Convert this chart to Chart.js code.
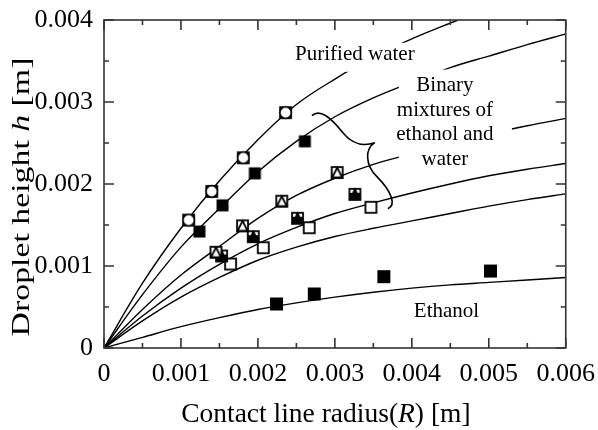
<!DOCTYPE html>
<html>
<head>
<meta charset="utf-8">
<script src="https://cdn.jsdelivr.net/npm/chart.js@4.4.1/dist/chart.umd.min.js"></script>
<style>
  html, body { margin: 0; padding: 0; background: #fff; }
  #wrap { width: 598px; height: 430px; }
</style>
</head>
<body>
<div id="wrap"><canvas id="chart" width="598" height="430"></canvas></div>
<script>
// contact line radius R [m] vs droplet height h [m]

// fitted curves
const curveR = [0, 0.0005, 0.001, 0.0015, 0.002, 0.0025, 0.003, 0.0035, 0.004, 0.0045, 0.005, 0.0055, 0.006];
const waterCurveR = [0, 0.0005, 0.001, 0.0015, 0.002, 0.0025, 0.003, 0.0035, 0.004, 0.0046];
const waterCurveH = [0, 0.00079, 0.00146, 0.00204, 0.00254, 0.00297, 0.00328, 0.00355, 0.00377, 0.0040];
const mixA_curveH = [0, 0.00065, 0.00123, 0.0017, 0.00215, 0.00252, 0.00282, 0.00305, 0.00324, 0.00342, 0.00356, 0.0037, 0.00383];
const mixB_curveH = [0, 0.00047, 0.00089, 0.00124, 0.00158, 0.00186, 0.00207, 0.00224, 0.00237, 0.0025, 0.00261, 0.00271, 0.0028];
const mixC_curveH = [0, 0.00039, 0.00073, 0.00102, 0.00127, 0.00147, 0.00164, 0.00177, 0.00189, 0.002, 0.0021, 0.00218, 0.00225];
const mixD_curveH = [0, 0.00033, 0.00062, 0.00086, 0.00107, 0.00123, 0.00136, 0.00146, 0.00155, 0.00164, 0.00173, 0.00181, 0.00188];
const ethanolCurveH = [0, 0.00013, 0.00026, 0.00037, 0.00047, 0.00055, 0.00062, 0.00068, 0.00073, 0.00077, 0.0008, 0.00083, 0.00086];

// measured points
const waterR = [0.0011, 0.0014, 0.00181, 0.00236];
const waterH = [0.00156, 0.00191, 0.00232, 0.00287];
const mixA_R = [0.00124, 0.00154, 0.00196, 0.00261];
const mixA_H = [0.00142, 0.00174, 0.00213, 0.00252];
const mixB_R = [0.001455, 0.0018, 0.00231, 0.00303];
const mixB_H = [0.001167, 0.00149, 0.00179, 0.00214];
const mixC_R = [0.001528, 0.00194, 0.002515, 0.00326];
const mixC_H = [0.001122, 0.001358, 0.001582, 0.001874];
const mixD_R = [0.001645, 0.00207, 0.002667, 0.003468];
const mixD_H = [0.001024, 0.001223, 0.001467, 0.001716];
const ethanolR = [0.002242, 0.002732, 0.003636, 0.005022];
const ethanolH = [0.000537, 0.000659, 0.00087, 0.000939];

const xTicks = [0, 0.001, 0.002, 0.003, 0.004, 0.005, 0.006];
const yTicks = [0, 0.001, 0.002, 0.003, 0.004];

const FONT = "'Liberation Serif', 'Times New Roman', serif";
Chart.defaults.font.family = FONT;
Chart.defaults.color = "#000";

const zip = (xs, ys) => xs.map((v, i) => ({ x: v, y: ys[i] }));

// marker images: the original symbols look like a glyph printed over a square
const makeMarker = (kind) => {
    const c = document.createElement("canvas");
    c.width = 15; c.height = 15;
    const g = c.getContext("2d");
    g.lineWidth = 1.8;
    g.strokeStyle = "#000";
    g.fillStyle = "#000";
    if (kind === "filled") {
        g.fillRect(1.5, 1.5, 12, 12);
    } else if (kind === "bigFilled") {
        g.fillRect(1, 1, 13, 13);
    } else {
        g.fillStyle = "#fff";
        g.fillRect(2, 2, 11, 11);
        g.strokeRect(2, 2, 11, 11);
        if (kind === "circle") {
            g.beginPath();
            g.arc(7.5, 7.5, 5.8, 0, Math.PI * 2);
            g.fill();
            g.stroke();
        } else if (kind === "tri" || kind === "filledTri") {
            g.beginPath();
            g.moveTo(7.5, 2.5);
            g.lineTo(12.5, 12.5);
            g.lineTo(2.5, 12.5);
            g.closePath();
            g.fillStyle = kind === "tri" ? "#fff" : "#000";
            g.fill();
            g.stroke();
            if (kind === "filledTri") {
                g.fillStyle = "#000";
                g.fillRect(2, 6, 11, 7);
            }
        }
    }
    return c;
};

const lineSet = (xs, ys) => ({
    type: "line",
    data: zip(xs, ys),
    borderColor: "#000",
    borderWidth: 1.4,
    pointRadius: 0,
    cubicInterpolationMode: "monotone",
    fill: false,
    order: 2
});

const pointSet = (xs, ys, kind) => ({
    type: "scatter",
    data: zip(xs, ys),
    pointStyle: makeMarker(kind),
    pointRadius: 7,
    order: 1
});

// white boxes behind the notes, then the text, then the brace
const notes = {
    id: "notes",
    afterDatasetsDraw(chart) {
        const { ctx, scales: { x, y } } = chart;
        ctx.save();
        ctx.font = `21px ${FONT}`;
        ctx.fillStyle = "#000";
        ctx.textAlign = "center";
        ctx.textBaseline = "middle";

        // Purified water
        let cx = x.getPixelForValue(0.00326);
        let cy = y.getPixelForValue(0.0036);
        ctx.fillStyle = "#fff";
        ctx.fillRect(cx - 65, cy - 10, 130, 29);
        ctx.fillStyle = "#000";
        ctx.fillText("Purified water", cx, cy + 2);

        // Binary mixtures block
        const binLines = ["Binary", "mixtures of", "ethanol and", "water"];
        cx = x.getPixelForValue(0.00443);
        const top = y.getPixelForValue(0.0032);
        ctx.fillStyle = "#fff";
        ctx.fillRect(cx - 46, top - 16, 113, 98);
        ctx.fillStyle = "#000";
        binLines.forEach((t, i) => ctx.fillText(t, cx, top + i * 24.5));

        // Ethanol
        ctx.fillText("Ethanol", x.getPixelForValue(0.00445), y.getPixelForValue(0.00045));

        // curly brace, anchored at its tip
        const tx = x.getPixelForValue(0.00352);
        const ty = y.getPixelForValue(0.002504);
        ctx.strokeStyle = "#000";
        ctx.lineWidth = 1.6;
        ctx.beginPath();
        ctx.moveTo(tx - 63, ty - 27);
        ctx.bezierCurveTo(tx - 55, ty - 34, tx - 45, ty - 26, tx - 32, ty - 10);
        ctx.bezierCurveTo(tx - 22, ty + 2, tx - 12, ty + 4, tx, ty);
        ctx.moveTo(tx, ty);
        ctx.bezierCurveTo(tx - 10, ty + 6, tx - 10, ty + 22, tx + 2, ty + 34);
        ctx.bezierCurveTo(tx + 16, ty + 48, tx + 22, ty + 62, tx + 13, ty + 66);
        ctx.stroke();
        ctx.restore();
    }
};

// box frame with inward ticks on all four sides, plus axis titles
const frame = {
    id: "frame",
    afterDraw(chart) {
        const { ctx, chartArea: a, scales: { x, y } } = chart;
        ctx.save();
        ctx.strokeStyle = "#333";
        ctx.lineWidth = 1.6;
        ctx.strokeRect(a.left, a.top, a.right - a.left, a.bottom - a.top);

        const mids = (vals) => vals.slice(1).map((v, i) => (v + vals[i]) / 2);
        const xs = x.ticks.map((t) => t.value);
        const ys = y.ticks.map((t) => t.value);
        ctx.beginPath();
        const xTick = (v, len) => {
            const px = x.getPixelForValue(v);
            ctx.moveTo(px, a.bottom); ctx.lineTo(px, a.bottom - len);
            ctx.moveTo(px, a.top); ctx.lineTo(px, a.top + len);
        };
        const yTick = (v, len) => {
            const py = y.getPixelForValue(v);
            ctx.moveTo(a.left, py); ctx.lineTo(a.left + len, py);
            ctx.moveTo(a.right, py); ctx.lineTo(a.right - len, py);
        };
        xs.forEach((v) => xTick(v, 10));
        mids(xs).forEach((v) => xTick(v, 5));
        ys.forEach((v) => yTick(v, 10));
        mids(ys).forEach((v) => yTick(v, 5));
        ctx.stroke();

        // titles with italic symbols
        const drawParts = (parts, size) => {
            const widths = parts.map(([t, it]) => {
                ctx.font = `${it ? "italic " : ""}${size}px ${FONT}`;
                return ctx.measureText(t).width;
            });
            let pos = -widths.reduce((s, w) => s + w, 0) / 2;
            parts.forEach(([t, it], i) => {
                ctx.font = `${it ? "italic " : ""}${size}px ${FONT}`;
                ctx.fillText(t, pos, 0);
                pos += widths[i];
            });
        };
        ctx.fillStyle = "#000";
        ctx.textBaseline = "middle";
        ctx.textAlign = "left";

        ctx.save();
        ctx.translate((a.left + a.right) / 2 - 9, 415);
        drawParts([["Contact line radius(", false], ["R", true], [") [m]", false]], 27.5);
        ctx.restore();

        ctx.save();
        ctx.translate(22, (a.top + a.bottom) / 2 + 13);
        ctx.rotate(-Math.PI / 2);
        ctx.scale(1.3, 1);
        drawParts([["Droplet height ", false], ["h", true], [" [m]", false]], 26);
        ctx.restore();

        ctx.restore();
    }
};

const fmt = (v) => (v === 0 ? "0" : v.toFixed(3));

new Chart(document.getElementById("chart"), {
    data: {
        datasets: [
            lineSet(waterCurveR, waterCurveH),
            lineSet(curveR, mixA_curveH),
            lineSet(curveR, mixB_curveH),
            lineSet(curveR, mixC_curveH),
            lineSet(curveR, mixD_curveH),
            lineSet(curveR, ethanolCurveH),
            pointSet(waterR, waterH, "circle"),
            pointSet(mixA_R, mixA_H, "filled"),
            pointSet(mixB_R, mixB_H, "tri"),
            pointSet(mixC_R, mixC_H, "filledTri"),
            pointSet(mixD_R, mixD_H, "open"),
            pointSet(ethanolR, ethanolH, "bigFilled")
        ]
    },
    options: {
        responsive: false,
        animation: false,
        events: [],
        layout: { padding: { left: 0, top: 20, right: 32, bottom: 0 } },
        plugins: { legend: { display: false }, tooltip: { enabled: false } },
        scales: {
            x: {
                type: "linear",
                min: 0,
                max: 0.006,
                afterBuildTicks: (s) => { s.ticks = xTicks.map((v) => ({ value: v })); },
                afterFit: (s) => { s.height = 82; },
                grid: { display: false },
                border: { display: false },
                ticks: { font: { size: 26 }, padding: 3, maxRotation: 0, autoSkip: false, callback: fmt }
            },
            y: {
                type: "linear",
                min: 0,
                max: 0.004,
                afterBuildTicks: (s) => { s.ticks = yTicks.map((v) => ({ value: v })); },
                afterFit: (s) => { s.width = 104; },
                grid: { display: false },
                border: { display: false },
                ticks: { font: { size: 26 }, padding: 3, autoSkip: false, callback: fmt }
            }
        }
    },
    plugins: [notes, frame]
});
</script>
</body>
</html>
